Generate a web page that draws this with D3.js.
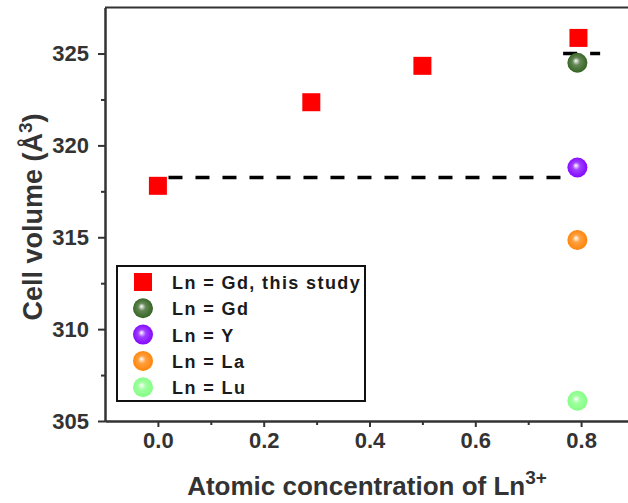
<!DOCTYPE html>
<html lang="en">
<head>
<meta charset="UTF-8">
<script src="https://d3js.org/d3.v7.min.js"></script>
<title>Cell volume vs Ln3+ concentration</title>
<style>
  body { margin: 0; background: #fff; }
  svg { display: block; font-family: "Liberation Sans", Arial, sans-serif; }
  .tick text { font-size: 22px; font-weight: bold; fill: #333; }
  .axis path, .axis line { stroke: #333; stroke-width: 2; }
</style>
</head>
<body>
<div id="chart"></div>
<script>
  // this study: Ln = Gd
  var studyX = [0, 0.29, 0.50, 0.795];
  var studyY = [317.8, 322.35, 324.33, 325.85];

  // literature values at x = 0.79
  var refNames = ["Gd", "Y", "La", "Lu"];
  var refX = [0.793, 0.793, 0.793, 0.793];
  var refY = [324.5, 318.8, 314.85, 306.1];
  var refColors = ["#2f5f1c", "#8000ff", "#ff8000", "#80ff80"];

  // dashed guide lines
  var guideX = [[0.02, 0.785], [0.766, 0.836]];
  var guideY = [318.25, 325.0];

  var xTicks = [0, 0.2, 0.4, 0.6, 0.8];
  var xMinor = [0.1, 0.3, 0.5, 0.7];
  var yTicks = [305, 310, 315, 320, 325];
  var yMinor = [307.5, 312.5, 317.5, 322.5];

  var width = 628, height = 503;

  var svg = d3.select("#chart").append("svg")
    .attr("width", width)
    .attr("height", height);

  var x = d3.scaleLinear().domain([-0.1, 0.9]).range([105, 634]);
  var y = d3.scaleLinear().domain([305, 327.5]).range([421, 7.6]);

  // gradients for spheres
  var defs = svg.append("defs");
  refColors.forEach(function(c, i) {
    var g = defs.append("radialGradient")
      .attr("id", "ball" + i)
      .attr("cx", "50%").attr("cy", "50%").attr("r", "55%")
      .attr("fx", "42%").attr("fy", "40%");
    g.append("stop").attr("offset", "0%").attr("stop-color", "#fff");
    g.append("stop").attr("offset", "35%").attr("stop-color", d3.interpolateRgb(c, "#fff")(0.25));
    g.append("stop").attr("offset", "100%").attr("stop-color", c);
  });

  // top border
  svg.append("line")
    .attr("x1", x(-0.1)).attr("x2", width)
    .attr("y1", y(327.5)).attr("y2", y(327.5))
    .attr("stroke", "#333").attr("stroke-width", 2);

  // minor ticks
  svg.append("g").attr("class", "axis")
    .attr("transform", "translate(0," + y(305) + ")")
    .call(d3.axisBottom(x).tickValues(xMinor).tickSize(4).tickSizeOuter(0).tickFormat(""));
  svg.append("g").attr("class", "axis")
    .attr("transform", "translate(" + x(-0.1) + ",0)")
    .call(d3.axisLeft(y).tickValues(yMinor).tickSize(4).tickSizeOuter(0).tickFormat(""));

  // major axes
  svg.append("g").attr("class", "axis")
    .attr("transform", "translate(0," + y(305) + ")")
    .call(d3.axisBottom(x).tickValues(xTicks).tickSize(6).tickPadding(5)
      .tickSizeOuter(0).tickFormat(d3.format(".1f")));
  svg.append("g").attr("class", "axis")
    .attr("transform", "translate(" + x(-0.1) + ",0)")
    .call(d3.axisLeft(y).tickValues(yTicks).tickSize(7).tickPadding(9)
      .tickSizeOuter(0).tickFormat(d3.format("d")));

  // axis titles
  var yt = svg.append("text")
    .attr("transform", "translate(42,217) rotate(-90)")
    .attr("text-anchor", "middle")
    .style("font-size", "27px").style("font-weight", "bold").style("fill", "#333");
  yt.append("tspan").text("Cell volume (Å");
  yt.append("tspan").attr("dy", -10).style("font-size", "19px").text("3");
  yt.append("tspan").attr("dy", 10).text(")");

  var xt = svg.append("text")
    .attr("x", 367).attr("y", 495)
    .attr("text-anchor", "middle")
    .style("font-size", "26px").style("font-weight", "bold").style("fill", "#333");
  xt.append("tspan").text("Atomic concentration of Ln");
  xt.append("tspan").attr("dy", -11).style("font-size", "19px").text("3+");

  // dashed guides
  guideX.forEach(function(gx, i) {
    svg.append("line")
      .attr("x1", x(gx[0])).attr("x2", x(gx[1]))
      .attr("y1", y(guideY[i])).attr("y2", y(guideY[i]))
      .attr("stroke", "#000").attr("stroke-width", 3.5)
      .attr("stroke-dasharray", "14,13");
  });

  // this study squares
  svg.selectAll("rect.study")
    .data(studyX)
    .enter().append("rect")
    .attr("class", "study")
    .attr("x", function(d) { return x(d) - 9; })
    .attr("y", function(d, i) { return y(studyY[i]) - 9; })
    .attr("width", 18).attr("height", 18)
    .attr("fill", "#ff0000");

  // literature spheres
  svg.selectAll("circle.ref")
    .data(refY)
    .enter().append("circle")
    .attr("class", "ref")
    .attr("cx", function(d, i) { return x(refX[i]); })
    .attr("cy", function(d) { return y(d); })
    .attr("r", 10)
    .attr("fill", function(d, i) { return "url(#ball" + i + ")"; });

  // legend
  var legend = svg.append("g");
  legend.append("rect")
    .attr("x", 117).attr("y", 266).attr("width", 248).attr("height", 135)
    .attr("fill", "#fff").attr("stroke", "#111").attr("stroke-width", 2);

  var labels = ["Ln = Gd, this study"].concat(refNames.map(function(n) { return "Ln = " + n; }));
  labels.forEach(function(lab, i) {
    var cy = 282 + i * 26.3;
    if (i === 0) {
      legend.append("rect")
        .attr("x", 134).attr("y", cy - 9).attr("width", 18).attr("height", 18)
        .attr("fill", "#ff0000");
    } else {
      legend.append("circle")
        .attr("cx", 143).attr("cy", cy).attr("r", 10)
        .attr("fill", "url(#ball" + (i - 1) + ")");
    }
    legend.append("text")
      .attr("x", 172).attr("y", cy + 7)
      .style("font-size", "18px").style("font-weight", "bold")
      .style("letter-spacing", "1.4px").style("fill", "#1a1a1a")
      .text(lab);
  });
</script>
</body>
</html>
